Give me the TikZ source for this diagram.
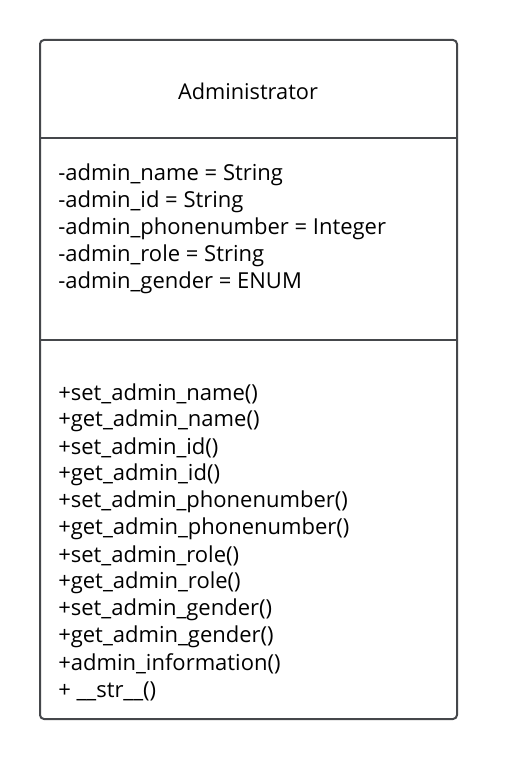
\documentclass[tikz,border=0pt]{standalone}
\usepackage{fontspec}
\setmainfont{Open Sans}
\definecolor{umlline}{HTML}{45474B}
\begin{document}
\begin{tikzpicture}[
    x=0.75pt, y=-0.75pt,
    frame/.style={draw=umlline, line width=1.5pt},
    entry/.style={anchor=west, inner sep=0pt, font=\fontsize{16.5}{19}\selectfont},
    title/.style={inner sep=0pt, font=\fontsize{16.3}{19}\selectfont}
]
  \useasboundingbox (0,0) rectangle (517,759);

  % class box and compartments
  \draw[frame, rounded corners=3pt] (40,40) rectangle (457,719);
  \coordinate (d1l) at (40,138);
  \coordinate (d1r) at (457,138);
  \coordinate (d2l) at (40,340);
  \coordinate (d2r) at (457,340);
  \draw[frame] (d1l) -- (d1r);
  \draw[frame] (d2l) -- (d2r);

  \node[title] (cls) at (248,91) {Administrator};

  % attributes
  \foreach \txt [count=\i] in {-admin\_name = String, -admin\_id = String,
      -admin\_phonenumber = Integer, -admin\_role = String, -admin\_gender = ENUM}
    \node[entry] (attr\i) at (58,{148+27*\i}) {\txt};

  % operations
  \foreach \txt [count=\i] in {+set\_admin\_name(), +get\_admin\_name(),
      +set\_admin\_id(), +get\_admin\_id(), +set\_admin\_phonenumber(),
      +get\_admin\_phonenumber(), +set\_admin\_role(), +get\_admin\_role(),
      +set\_admin\_gender(), +get\_admin\_gender(), +admin\_information(),
      + \_\_str\_\_()}
    \node[entry] (op\i) at (58,{367+27*\i}) {\txt};
\end{tikzpicture}
\end{document}
